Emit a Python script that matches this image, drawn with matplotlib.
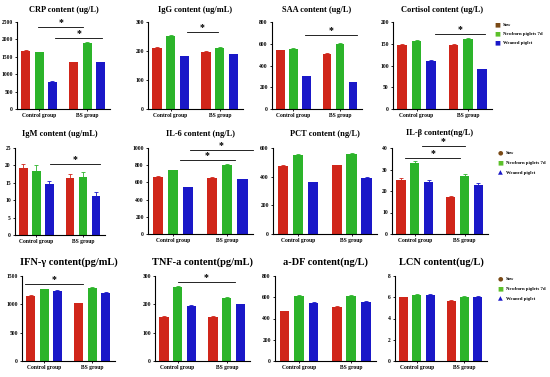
import matplotlib
matplotlib.use("Agg")
import matplotlib.pyplot as plt

W, H = 550, 377
plt.rcParams['font.family'] = ['Liberation Serif', 'DejaVu Serif']
plt.rcParams['font.weight'] = 'bold'

groups = ["Control group", "BS group"]
series = ["Sow", "Newborn piglets 7d", "Weaned piglet"]
bar_colors = ["#d0261a", "#2cb42a", "#1a18c8"]
legend_colors = ["#7a4a16", "#5cc02a", "#1a18c8"]

# values per panel: [ctrl sow, ctrl newborn, ctrl weaned, BS sow, BS newborn, BS weaned]
crp = [1675, 1625, 790, 1340, 1910, 1340]
igg = [210, 253, 182, 197, 212, 188]
saa = [540, 555, 300, 510, 600, 250]
cortisol = [148, 156, 111, 147, 161, 92]
igm = [19.2, 18.5, 14.7, 16.5, 16.7, 11.2]
igm_err = [1.1, 1.5, 0.9, 1.0, 1.5, 1.1]
il6 = [664, 740, 542, 656, 805, 637]
pct = [476, 552, 361, 480, 561, 391]
ilb = [25.2, 33.0, 24.1, 17.0, 27.1, 22.6]
ilb_err = [0.8, 0.8, 0.9, 0.7, 0.8, 1.0]
ifn = [1147, 1265, 1235, 1018, 1294, 1206]
tnf = [156, 262, 195, 156, 224, 200]
adf = [470, 614, 549, 508, 614, 558]
lcn = [6.0, 6.2, 6.2, 5.65, 6.05, 6.05]

xpos = [0, 1, 2, 3.6, 4.6, 5.6]

fig = plt.figure(figsize=(W / 100, H / 100), dpi=100)


def rect(l, t, r, b):
    return [l / W, 1 - b / H, (r - l) / W, (b - t) / H]


def panel(box, title, title_y, vals, ymax, step, err=None, sig=(), tsize=6):
    ax = fig.add_axes(rect(*box))
    if err is None:
        err = [v * 0.01 for v in vals]
    for i, (x, v, e) in enumerate(zip(xpos, vals, err)):
        ax.bar(x, v, width=0.68, color=bar_colors[i % 3], zorder=2)
        ax.errorbar(x, v, yerr=e, color=bar_colors[i % 3], capsize=1.2,
                    elinewidth=0.6, capthick=0.6, zorder=3)
    ax.set_xlim(-0.65, 6.3)
    ax.set_ylim(0, ymax)
    ax.set_yticks([step * k for k in range(int(round(ymax / step)) + 1)])
    ax.set_xticks([1, 4.6])
    ax.set_xticklabels(groups)
    ax.tick_params(labelsize=4, length=1.5, width=0.6, pad=1.5)
    for s in ["top", "right"]:
        ax.spines[s].set_visible(False)
    for s in ["left", "bottom"]:
        ax.spines[s].set_linewidth(0.8)
    # title placed at a fixed height, centred over the axes
    fig.text((box[0] + box[2]) / 2 / W, 1 - title_y / H, title,
             fontsize=tsize, fontweight="bold", ha="center", va="center")
    for x1, x2, y in sig:
        ax.plot([x1, x2], [y, y], color="black", lw=0.6, clip_on=False)
        ax.text((x1 + x2) / 2, y, "*", ha="center", va="bottom",
                fontsize=7, clip_on=False)
    return ax


def legend(x, ys, markers):
    for name, y, m, c in zip(series, ys, markers, legend_colors):
        fig.text((x - 3) / W, 1 - y / H, m, color=c, fontsize=4.5,
                 ha="center", va="center", family="DejaVu Sans")
        fig.text((x + 3) / W, 1 - y / H, name, fontsize=3.4,
                 ha="left", va="center")


# row 1
panel((17, 22, 110, 109), "CRP content (ug/L)", 10, crp, 2500, 500,
      sig=[(0.95, 4.3, 2350), (2.2, 5.7, 2040)])
panel((148, 22, 243, 109), "IgG content (ug/mL)", 10, igg, 300, 100,
      sig=[(2.2, 4.47, 267)])
panel((272, 22, 362, 109), "SAA content (ug/L)", 10, saa, 800, 200,
      sig=[(1.9, 5.9, 679)])
panel((393, 22, 492, 109), "Cortisol content (ug/L)", 10, cortisol, 200, 50,
      sig=[(2.3, 5.83, 173)])
legend(500, [25, 34, 43], ["■", "■", "■"])

# row 2
panel((15, 148, 105, 235), "IgM content (ug/mL)", 134, igm, 25, 5, err=igm_err,
      sig=[(2.05, 5.9, 20.4)])
panel((148, 148, 253, 234), "IL-6 content (ng/L)", 134, il6, 1000, 200,
      sig=[(2.13, 6.3, 981), (1.47, 5.1, 866)])
panel((273, 148, 377, 234), "PCT content (ng/L)", 134, pct, 600, 200)
panel((392, 148, 488, 234), "IL-β content(ng/L)", 133, ilb, 40, 10, err=ilb_err,
      sig=[(1.52, 4.64, 40.8), (0.29, 4.28, 35.4)])
legend(503, [153, 163, 173], ["●", "■", "▲"])

# row 3
panel((22, 276, 115, 361), "IFN-γ content(pg/mL)", 262, ifn, 1500, 500,
      sig=[(-0.43, 3.9, 1353)], tsize=7.5)
panel((155, 276, 250, 361), "TNF-a content(pg/mL)", 262, tnf, 300, 100,
      sig=[(1.0, 5.2, 280)], tsize=7.5)
panel((275, 276, 376, 361), "a-DF content(ng/L)", 262, adf, 800, 200, tsize=7.5)
panel((395, 276, 487, 361), "LCN content(ug/L)", 262, lcn, 8, 2, tsize=7.5)
legend(503, [279, 289, 299], ["●", "■", "▲"])

fig.savefig("out.png", dpi=100)
